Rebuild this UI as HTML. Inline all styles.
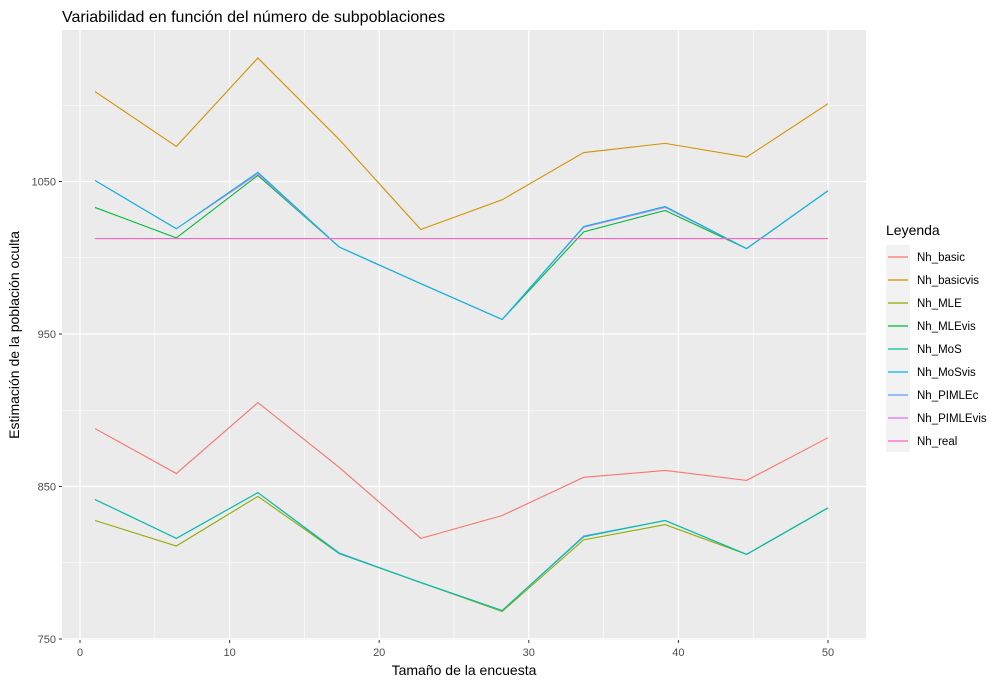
<!DOCTYPE html>
<html><head><meta charset="utf-8"><style>
body{margin:0;background:#fff;font-family:"Liberation Sans",Arial,sans-serif}
text{font-family:"Liberation Sans",Arial,sans-serif}
</style></head><body>
<svg id="chart" width="1000" height="685">
<rect width="1000" height="685" fill="#fff"/>
<text x="62" y="22" font-size="16" fill="#000">Variabilidad en función del número de subpoblaciones</text>
<rect x="62" y="30" width="804" height="610" fill="#EBEBEB"/>
<g id="grid"></g><g id="series"></g><g id="axes"></g><g id="legend"></g>
<text x="464" y="675" font-size="14" text-anchor="middle">Tamaño de la encuesta</text>
<text transform="translate(19,335) rotate(-90)" font-size="14" text-anchor="middle">Estimación de la población oculta</text>
</svg>
<script>
const xs=[1,6.44,11.89,17.33,22.78,28.22,33.67,39.11,44.56,50];
const seriesNames=["Nh_basic","Nh_basicvis","Nh_MLE","Nh_MLEvis","Nh_MoS","Nh_MoSvis","Nh_PIMLEc","Nh_PIMLEvis","Nh_real"];
const colors=["#F8766D","#D39200","#93AA00","#00BA38","#00C19F","#00B9E3","#619CFF","#DB72FB","#FF61C3"];
const basic=[888,858.5,905,862.5,816,831,856,860.5,854,882];
const basicvis=[1109,1073,1131,1077.5,1018.5,1038,1069,1075,1066,1101];
const mle=[827.7,811,843.5,806,787,768,815,825,805.5,836];
const mlevis=[1033,1013,1054,1007,983,959.5,1017,1031,1006,1044];
const mos=[841.5,816,846,806,787,768.7,817,827.7,805.5,836];
const mosvis=[1050.7,1019,1056,1007,983,959.5,1020.5,1033.6,1006,1044];
const pimlec=[841.5,816,846,806.5,787,768.7,817.5,827.7,805.5,836];
const pimlevis=[1050.7,1019,1055,1007,983,959.5,1020,1033,1006,1044];
const real=[1012.6,1012.6,1012.6,1012.6,1012.6,1012.6,1012.6,1012.6,1012.6,1012.6];
const allSeries=[basic,basicvis,mle,mlevis,mos,mosvis,pimlec,pimlevis,real];
const xTicks=[0,10,20,30,40,50];
const yTicks=[750,850,950,1050];
const NS="http://www.w3.org/2000/svg";
const X=v=>80+(v-0)*(828-80)/50;
const Y=v=>639-(v-750)*(639-334)/200;
function el(t,a,p){const e=document.createElementNS(NS,t);for(const k in a)e.setAttribute(k,a[k]);document.getElementById(p).appendChild(e);return e;}
for(let i=0;i<xTicks.length;i++){const v=xTicks[i];
 if(i<xTicks.length-1){const g=el("line",{x1:X(v+5),x2:X(v+5),y1:30,y2:640,stroke:"#fff","stroke-width":0.6},"grid");}
 const g2=el("line",{x1:X(v),x2:X(v),y1:30,y2:640,stroke:"#fff","stroke-width":1.2},"grid");
 
 const t=el("text",{x:X(v),y:656,"font-size":11,fill:"#4D4D4D","text-anchor":"middle"},"axes");t.textContent=v;
 
 const tk=el("line",{x1:X(v),x2:X(v),y1:640,y2:643,stroke:"#333"},"axes");}
for(let i=0;i<yTicks.length;i++){const v=yTicks[i];
 const m=el("line",{x1:62,x2:866,y1:Y(v+50),y2:Y(v+50),stroke:"#fff","stroke-width":0.6},"grid");
 const g=el("line",{x1:62,x2:866,y1:Y(v),y2:Y(v),stroke:"#fff","stroke-width":1.2},"grid");
 const t=el("text",{x:56,y:Y(v)+4,"font-size":11,fill:"#4D4D4D","text-anchor":"end"},"axes");t.textContent=v;
 
 const tk=el("line",{x1:59,x2:62,y1:Y(v),y2:Y(v),stroke:"#333"},"axes");}
const order=[0,1,2,6,4,3,7,5,8];
for(const i of order){const d=allSeries[i];
 const pl=el("polyline",{points:d.map((v,j)=>X(xs[j])+","+Y(v)).join(" "),fill:"none",stroke:colors[i],"stroke-width":1.1},"series");
 }
const lt=el("text",{x:886,y:235,"font-size":14},"legend");lt.textContent="Leyenda";

const lb=el("rect",{x:886,y:245,width:24,height:207,fill:"#F2F2F2"},"legend");
for(let i=0;i<seriesNames.length;i++){const y=257+i*23;
 const l=el("line",{x1:888,x2:908,y1:y,y2:y,stroke:colors[i],"stroke-width":1.2},"legend");
 const t=el("text",{x:917,y:y+4,"font-size":11.5},"legend");t.textContent=seriesNames[i];
 }
</script>
</body></html>
